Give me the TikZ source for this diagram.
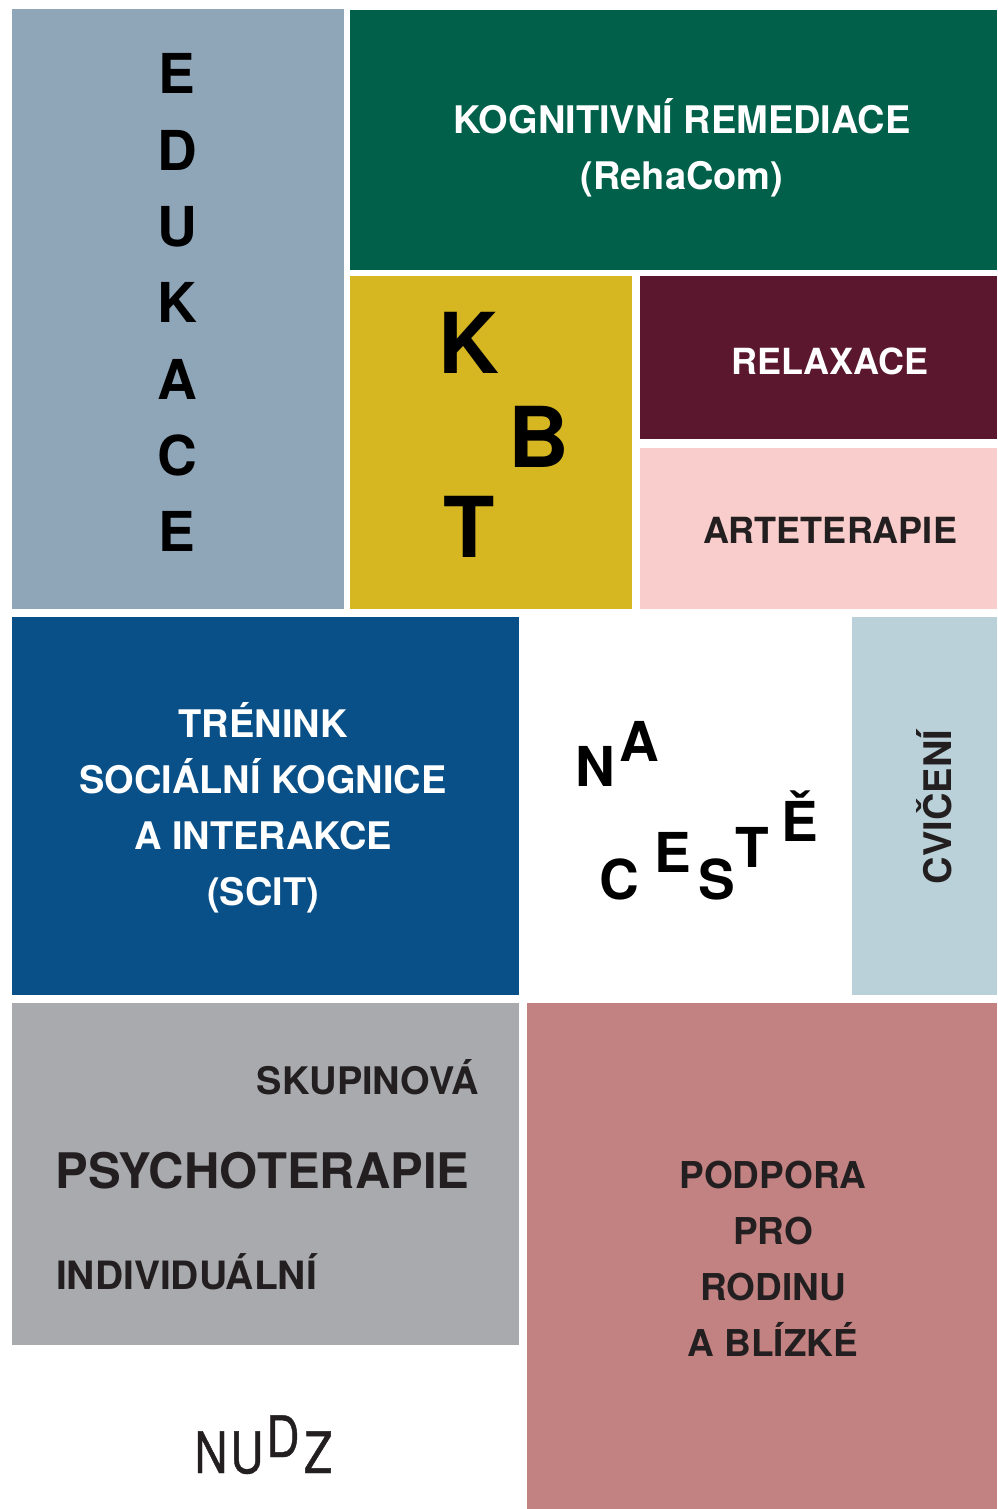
\documentclass[tikz,border=0pt]{standalone}
\usepackage{fontspec}
\setmainfont{TeX Gyre Heros}
\usepackage{tikz}
\usetikzlibrary{positioning}

\definecolor{edublue}{HTML}{8FA5B8}
\definecolor{kogngreen}{HTML}{00604A}
\definecolor{kbtyellow}{HTML}{D6B722}
\definecolor{relaxwine}{HTML}{5A172E}
\definecolor{artpink}{HTML}{F8CDCB}
\definecolor{scitblue}{HTML}{0A5088}
\definecolor{cvicblue}{HTML}{BAD1D9}
\definecolor{psygray}{HTML}{A9AAAE}
\definecolor{rodrose}{HTML}{C38282}
\definecolor{inkdark}{HTML}{231F20}

\newcommand{\fsz}[2]{\fontsize{#1}{#2}\selectfont}

\begin{document}
\begin{tikzpicture} [
	x=1pt, y=-1pt, % one unit is one pixel of the layout, y runs downwards
	tile/.style={anchor=north west, inner sep=0pt, outer sep=0pt}, % the coloured blocks
	blocktext/.style={font=\bfseries\fsz{38}{56}, align=center, inner sep=0pt}, % block captions
	bigletter/.style={font=\bfseries\fsz{55}{55}, anchor=base, inner sep=0pt}, % scattered letters
	logoletter/.style={bigletter, text=inkdark, font=\fsz{57}{57}\addfontfeature{FakeStretch=0.8,FakeBold=0.8}}, % logo
	]
	\fill[white] (0,0) rectangle (997,1509);
	\useasboundingbox (0,0) rectangle (997,1509);

	% blocks
	\node[tile, fill=edublue, minimum width=332pt, minimum height=600pt] (edu) at (12,9) {};
	\node[tile, fill=kogngreen, minimum width=647pt, minimum height=260pt] (kog) at (350,10) {};
	\node[tile, fill=kbtyellow, minimum width=282pt, minimum height=333pt] (kbt) at (350,276) {};
	\node[tile, fill=relaxwine, minimum width=357pt, minimum height=163pt] (rel) at (640,276) {};
	\node[tile, fill=artpink, minimum width=357pt, minimum height=161pt] (art) at (640,448) {};
	\node[tile, fill=scitblue, minimum width=507pt, minimum height=378pt] (scit) at (12,617) {};
	\node[tile, fill=cvicblue, minimum width=145pt, minimum height=378pt] (cvic) at (852,617) {};
	\node[tile, fill=psygray, minimum width=507pt, minimum height=342pt] (psy) at (12,1003) {};
	\node[tile, fill=rodrose, minimum width=470pt, minimum height=506pt] (rod) at (527,1003) {};

	% captions
	\foreach \ch [count=\i from 0] in {E,D,U,K,A,C,E}
		\node[bigletter] (edu\i) at (177, 94+76.25*\i) {\ch};
	\node[blocktext, text=white] (kogtext) at (682,147.5) {KOGNITIVNÍ REMEDIACE\\(RehaCom)};
	\node[bigletter, font=\bfseries\fsz{84}{84}] (kbtK) at (469,373) {K};
	\node[bigletter, font=\bfseries\fsz{84}{84}] (kbtB) at (539,467) {B};
	\node[bigletter, font=\bfseries\fsz{84}{84}] (kbtT) at (469,557) {T};
	\node[blocktext, text=white, anchor=base, font=\bfseries\fsz{36}{36}] (reltext) at (830,374) {RELAXACE};
	\node[blocktext, text=inkdark, anchor=base, font=\bfseries\fsz{36}{36}] (arttext) at (830,543) {ARTETERAPIE};
	\node[blocktext, text=white] (scittext) at (263,808) {TRÉNINK\\SOCIÁLNÍ KOGNICE\\A INTERAKCE\\(SCIT)};
	\node[blocktext, text=inkdark, anchor=base, rotate=90] (cvictext) at (951,807) {CVIČENÍ};
	\node[blocktext, text=inkdark, anchor=base] (skup) at (368,1094) {SKUPINOVÁ};
	\node[blocktext, text=inkdark, anchor=base, font=\bfseries\fsz{49}{49}] (psytext) at (262.5,1188) {PSYCHOTERAPIE};
	\node[blocktext, text=inkdark, anchor=base, font=\bfseries\fsz{39}{39}] (indiv) at (186.5,1289) {INDIVIDUÁLNÍ};
	\node[blocktext, text=inkdark, font=\bfseries\fsz{37}{56}] (rodtext) at (773,1258.5) {PODPORA\\PRO\\RODINU\\A BLÍZKÉ};

	% na ceste
	\node[bigletter] (naN) at (595,786) {N};
	\node[bigletter] (naA) at (639,761) {A};
	\node[bigletter] (ceC) at (619,899) {C};
	\node[bigletter] (ceE) at (673,872) {E};
	\node[bigletter] (ceS) at (717,899) {S};
	\node[bigletter] (ceT) at (752,867) {T};
	\node[bigletter] (ceEc) at (800,841) {Ě};

	% logo
	\node[logoletter] (logoN) at (211,1473) {N};
	\node[logoletter] (logoU) at (247,1473) {U};
	\node[logoletter] (logoD) at (283,1457) {D};
	\node[logoletter] (logoZ) at (318,1473) {Z};
\end{tikzpicture}
\end{document}
